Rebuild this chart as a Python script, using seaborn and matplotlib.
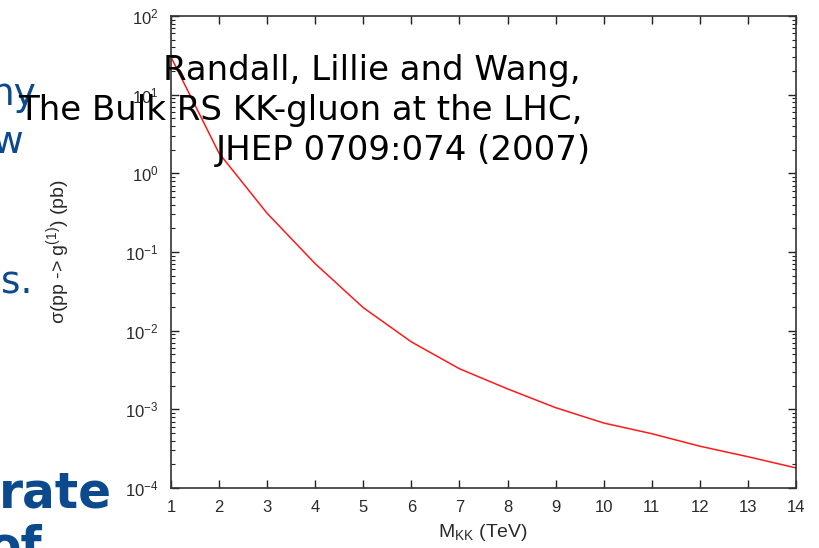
import matplotlib
matplotlib.use("Agg")
import matplotlib.pyplot as plt
import seaborn as sns
import numpy as np
import pandas as pd
from matplotlib.ticker import LogLocator, NullFormatter, FixedLocator

# Data
mkk_tev = [1, 2, 3, 4, 5, 6, 7, 8, 9, 10, 11, 12, 13, 14]
sigma_pb = [30.0, 1.8, 0.31, 0.071, 0.0196, 0.0072, 0.00328, 0.00182,
            0.00105, 0.00067, 0.00049, 0.00034, 0.00025, 0.00018]
x_ticks = list(range(1, 15))

title_lines = ["Randall, Lillie and Wang,",
               "The Bulk RS KK-gluon at the LHC,",
               "JHEP 0709:074 (2007)"]
slide_fragments = ["ny", "w", "s."]
slide_bold = ["rate", "of"]

sns.set_style("ticks")
plt.rcParams["font.family"] = ["Liberation Sans", "DejaVu Sans"]
plt.rcParams["mathtext.fontset"] = "custom"
plt.rcParams["mathtext.rm"] = "Liberation Sans"
plt.rcParams["mathtext.it"] = "Liberation Sans:italic"
plt.rcParams["mathtext.bf"] = "Liberation Sans:bold"

W, H = 819, 548
fig = plt.figure(figsize=(W / 100, H / 100), dpi=100)
fig.patch.set_facecolor("white")
ax = fig.add_axes([171 / W, 1 - 488 / H, (796 - 171) / W, (488 - 16) / H])

df = pd.DataFrame({"M": mkk_tev, "sigma": sigma_pb})
sns.lineplot(data=df, x="M", y="sigma", ax=ax, color="#ff1a1a", linewidth=1.1)

ax.set_yscale("log")
ax.set_xlim(1, 14)
ax.set_ylim(1e-4, 1e2)
ax.xaxis.set_major_locator(FixedLocator(x_ticks))
ax.set_xticklabels([str(t) for t in x_ticks])
ax.yaxis.set_major_locator(LogLocator(base=10, numticks=10))
ax.yaxis.set_minor_locator(LogLocator(base=10, subs=np.arange(2, 10), numticks=20))
ax.yaxis.set_minor_formatter(NullFormatter())

ax.tick_params(axis="both", which="major", direction="in", length=6, width=1,
               color="#222222", labelcolor="#2a2a2a", labelsize=12,
               top=True, right=True, pad=9)
ax.tick_params(axis="y", which="minor", direction="in", length=3, width=0.8,
               color="#222222", right=True, left=True)
for s in ax.spines.values():
    s.set_color("#333333")
    s.set_linewidth(1.2)

ax.set_xlabel(r"M$_{\rm KK}$ (TeV)", fontsize=14, color="#2a2a2a", labelpad=5)
ax.set_ylabel(r"σ(pp -> g$^{(1)}$) (pb)", fontsize=14, color="#2a2a2a", labelpad=38)

# Slide fragments (blue) partially cut at the left edge
blue = "#0b4a8c"
fig.text(37 / W, 1 - 105 / H, slide_fragments[0], ha="right", va="baseline",
         fontsize=27, color=blue, family="DejaVu Sans")
fig.text(23 / W, 1 - 153 / H, slide_fragments[1], ha="right", va="baseline",
         fontsize=27, color=blue, family="DejaVu Sans")
fig.text(32 / W, 1 - 293 / H, slide_fragments[2], ha="right", va="baseline",
         fontsize=27, color=blue, family="DejaVu Sans")
fig.text(112 / W, 1 - 507 / H, slide_bold[0], ha="right", va="baseline",
         fontsize=35, color=blue, family="DejaVu Sans", fontweight="bold")
fig.text(43 / W, 1 - 562 / H, slide_bold[1], ha="right", va="baseline",
         fontsize=35, color=blue, family="DejaVu Sans", fontweight="bold")

# Citation text overlay
fig.text(163 / W, 1 - 80 / H, title_lines[0], ha="left", va="baseline",
         fontsize=24.5, color="black", family="DejaVu Sans")
fig.text(18 / W, 1 - 120 / H, title_lines[1], ha="left", va="baseline",
         fontsize=24.5, color="black", family="DejaVu Sans")
fig.text(216 / W, 1 - 160 / H, title_lines[2], ha="left", va="baseline",
         fontsize=24.5, color="black", family="DejaVu Sans")

fig.savefig("out.png", dpi=100)
